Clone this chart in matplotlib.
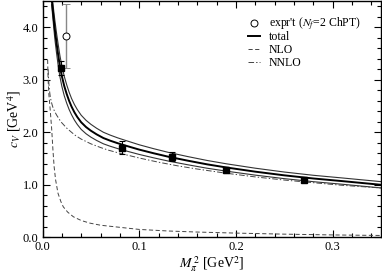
import matplotlib
matplotlib.use("Agg")
import matplotlib.pyplot as plt
from matplotlib.lines import Line2D

plt.rcParams['font.family'] = ['Liberation Serif', 'DejaVu Serif']
plt.rcParams['mathtext.fontset'] = 'stix'
plt.rcParams['lines.scale_dashes'] = False

# lattice data points (filled squares)
lat_x = [0.0187, 0.0823, 0.134, 0.190, 0.270]
lat_y = [3.22, 1.71, 1.535, 1.28, 1.085]
lat_err = [0.13, 0.13, 0.09, 0.05, 0.04]

# experimental point (open circle)
exp_x = [0.0248]
exp_y = [3.84]
exp_err = [0.61]

# total fit: central, upper and lower band
total_x = [0.0094, 0.0105, 0.0118, 0.013, 0.0145, 0.016, 0.018, 0.020, 0.0225, 0.025,
           0.0275, 0.030, 0.033, 0.036, 0.040, 0.045, 0.050, 0.056, 0.063, 0.070,
           0.078, 0.087, 0.100, 0.115, 0.130, 0.150, 0.170, 0.190, 0.220, 0.250,
           0.280, 0.310, 0.350]
total_y = [4.55, 4.36, 4.12, 3.92, 3.70, 3.50, 3.26, 3.07, 2.88, 2.73,
           2.60, 2.49, 2.38, 2.29, 2.19, 2.10, 2.03, 1.96, 1.89, 1.84,
           1.79, 1.74, 1.67, 1.60, 1.535, 1.46, 1.39, 1.33, 1.25, 1.18,
           1.12, 1.07, 1.00]
total_up = [4.67, 4.50, 4.28, 4.10, 3.89, 3.70, 3.46, 3.265, 3.065, 2.905,
            2.765, 2.645, 2.528, 2.432, 2.325, 2.228, 2.152, 2.076, 2.00, 1.946,
            1.892, 1.838, 1.762, 1.687, 1.618, 1.538, 1.464, 1.40, 1.316, 1.243,
            1.181, 1.13, 1.06]
total_lo = [4.43, 4.22, 3.96, 3.74, 3.51, 3.30, 3.06, 2.875, 2.695, 2.555,
            2.435, 2.335, 2.232, 2.148, 2.055, 1.972, 1.908, 1.844, 1.78, 1.734,
            1.688, 1.642, 1.578, 1.513, 1.452, 1.382, 1.316, 1.26, 1.184, 1.117,
            1.059, 1.01, 0.94]

# NLO (dashed)
nlo_x = [0.0053, 0.0058, 0.0066, 0.0080, 0.0095, 0.0108, 0.0120, 0.0135, 0.0160,
         0.0190, 0.0215, 0.026, 0.032, 0.040, 0.049, 0.060, 0.080, 0.100, 0.130,
         0.160, 0.200, 0.250, 0.300, 0.350]
nlo_y = [3.38, 3.00, 2.72, 2.42, 2.06, 1.66, 1.35, 1.10, 0.84,
         0.68, 0.58, 0.48, 0.39, 0.32, 0.27, 0.23, 0.19, 0.15, 0.12,
         0.10, 0.08, 0.06, 0.045, 0.035]

# NNLO (dash-dot)
nnlo_x = [0.0058, 0.0065, 0.0072, 0.0080, 0.0090, 0.0100, 0.0112, 0.0125, 0.0145, 0.0166,
          0.019, 0.021, 0.025, 0.030, 0.034, 0.040, 0.050, 0.060, 0.068, 0.080,
          0.100, 0.120, 0.140, 0.160, 0.190, 0.220, 0.250, 0.280, 0.310, 0.350]
nnlo_y = [3.20, 2.95, 2.80, 2.68, 2.59, 2.52, 2.45, 2.40, 2.33, 2.27,
          2.20, 2.16, 2.08, 2.00, 1.94, 1.87, 1.78, 1.71, 1.66, 1.60,
          1.51, 1.43, 1.36, 1.30, 1.22, 1.15, 1.09, 1.04, 0.99, 0.94]

x_ticks = [0.0, 0.1, 0.2, 0.3]
x_labels = ['0.0', '0.1', '0.2', '0.3']
y_ticks = [0.0, 1.0, 2.0, 3.0, 4.0]
y_labels = ['0.0', '1.0', '2.0', '3.0', '4.0']

fig = plt.figure(figsize=(3.82, 2.75), dpi=100)
ax = fig.add_axes([42.5 / 382, 1 - 237.3 / 275, (381 - 42.5) / 382, (237.3 - 1) / 275])

ax.plot(total_x, total_up, color='#333333', lw=0.8)
ax.plot(total_x, total_lo, color='#333333', lw=0.8)
ax.plot(total_x, total_y, color='black', lw=1.4)
ax.plot(nlo_x, nlo_y, color='#444444', lw=0.7, dashes=(3, 1.8))
ax.plot(nnlo_x, nnlo_y, color='#444444', lw=0.7, dashes=(4, 1.5, 1, 1.5))

ax.errorbar(exp_x, exp_y, yerr=exp_err, fmt='o', mfc='white', mec='black', mew=0.7,
            ms=5, ecolor='#888888', elinewidth=1.0, capsize=3, capthick=1.0, zorder=5)
ax.errorbar(lat_x, lat_y, yerr=lat_err, fmt='s', color='black', ms=4.5,
            ecolor='black', elinewidth=0.8, capsize=2.5, capthick=0.8, zorder=6)

ax.set_xlim(0, 0.35)
ax.set_ylim(0, 4.5)
ax.set_xticks(x_ticks)
ax.set_xticklabels(x_labels)
ax.set_yticks(y_ticks)
ax.set_yticklabels(y_labels)
ax.set_xticks([i * 0.02 for i in range(18)], minor=True)
ax.set_yticks([i * 0.2 for i in range(23)], minor=True)
ax.tick_params(which='both', direction='in', top=True, right=True, labelsize=9, width=0.8)
ax.tick_params(which='major', length=5, pad=3)
ax.tick_params(which='minor', length=3)
for s in ax.spines.values():
    s.set_linewidth(1.0)

ax.set_xlabel(r'$M_{\pi}^{\,2}$ [GeV$^2$]', fontsize=10, labelpad=1)
ax.set_ylabel(r'$c_V$ [GeV$^4$]', fontsize=10, labelpad=0)

h1 = [Line2D([], [], ls='none', marker='o', mfc='white', mec='black', mew=0.7, ms=5)]
leg1 = ax.legend(h1, [r"expr't ($N_f$=2 ChPT)"], loc='upper left',
                 bbox_to_anchor=(0.607, 0.94), frameon=False, fontsize=8.5,
                 handlelength=1.0, handletextpad=0.75, borderpad=0, borderaxespad=0)
ax.add_artist(leg1)
h2 = [Line2D([], [], color='black', lw=1.4),
      Line2D([], [], color='#444444', lw=0.7, dashes=(3, 1.8)),
      Line2D([], [], color='#444444', lw=0.7, dashes=(4, 1.5, 1, 1.5))]
ax.legend(h2, ['total', 'NLO', 'NNLO'], loc='upper left',
          bbox_to_anchor=(0.607, 0.874), frameon=False, fontsize=8.5,
          handlelength=1.0, handletextpad=0.75, borderpad=0, borderaxespad=0,
          labelspacing=0.1)

fig.savefig('out.png', dpi=100)
